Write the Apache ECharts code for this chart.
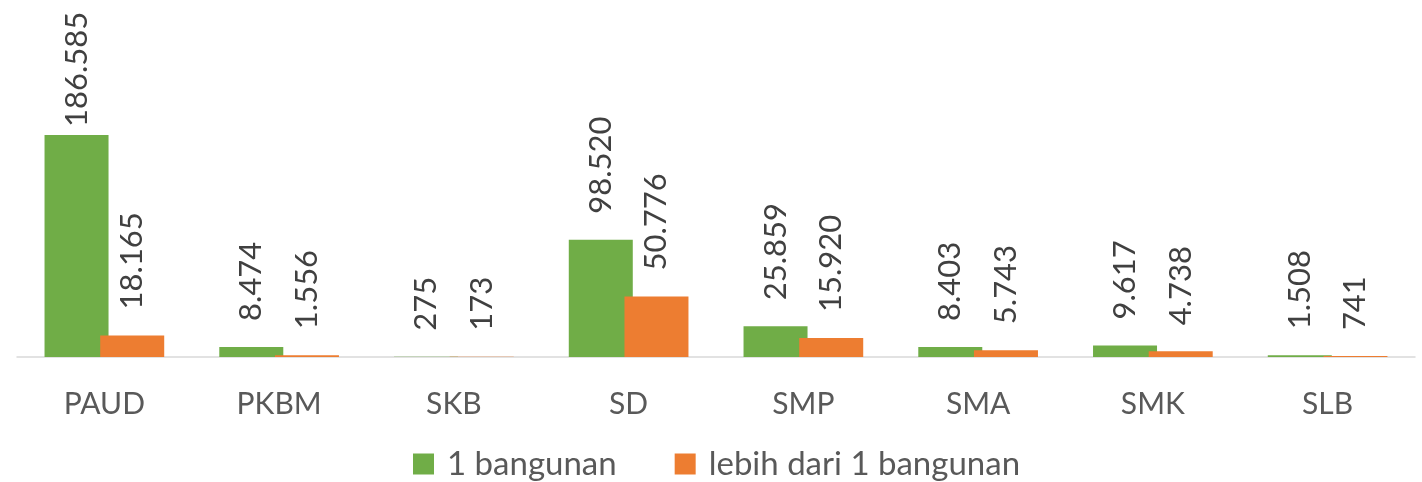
<!DOCTYPE html>
<html>
<head>
<meta charset="utf-8">
<script src="https://cdn.jsdelivr.net/npm/echarts@6/dist/echarts.min.js"></script>
<style>
	html, body { margin: 0; padding: 0; background: #ffffff; }
	#bar-container { width: 1422px; height: 482px; }
</style>
</head>
<body>
<div id="bar-container"></div>
<script>
var kategori = ['PAUD', 'PKBM', 'SKB', 'SD', 'SMP', 'SMA', 'SMK', 'SLB'];
var satu_bangunan = [186585, 8474, 275, 98520, 25859, 8403, 9617, 1508];
var lebih_satu_bangunan = [18165, 1556, 173, 50776, 15920, 5743, 4738, 741];
var nama_seri = ['1 bangunan', 'lebih dari 1 bangunan'];

var font_family = 'Lato';
var label_color = '#404040';
var axis_font_color = '#595959';

function formatRibuan(v) {
	return v.toString().replace(/\B(?=(\d{3})+(?!\d))/g, '.');
}

var y_max = 200000;

// label bar tertinggi didorong ke bawah supaya tidak keluar area chart
function buatData(arr) {
	return arr.map(function (v) {
		if (v > 180000) {
			return { value: v, label: { distance: 8 } };
		}
		return v;
	});
}

var barLabel = {
	show: true,
	position: 'top',
	rotate: 90,
	align: 'left',
	verticalAlign: 'middle',
	distance: 26,
	fontFamily: font_family,
	fontSize: 31,
	color: label_color,
	formatter: function (p) { return formatRibuan(p.value); }
};

var barChart = echarts.init(document.getElementById('bar-container'));
var barChartOptions = {
	animation: false,
	grid: {
		left: 17,
		right: 7,
		top: 119,
		bottom: 125
	},
	legend: {
		left: 413,
		top: 447,
		padding: 0,
		itemWidth: 21,
		itemHeight: 21,
		itemGap: 58,
		icon: 'rect',
		data: nama_seri,
		textStyle: {
			fontFamily: font_family,
			fontSize: 33,
			lineHeight: 34,
			color: axis_font_color,
			padding: [0, 0, 0, 8]
		}
	},
	xAxis: {
		type: 'category',
		data: kategori,
		axisTick: { show: false },
		axisLine: {
			lineStyle: { color: '#d9d9d9', width: 1.5 }
		},
		axisLabel: {
			margin: 32,
			fontFamily: font_family,
			fontSize: 30,
			color: axis_font_color
		}
	},
	yAxis: {
		type: 'value',
		min: 0,
		max: y_max,
		show: false,
		splitLine: { show: false }
	},
	series: [
		{
			name: nama_seri[0],
			type: 'bar',
			data: buatData(satu_bangunan),
			barWidth: 64,
			barGap: '-13%',
			itemStyle: { color: '#70ad47' },
			label: barLabel
		},
		{
			name: nama_seri[1],
			type: 'bar',
			data: buatData(lebih_satu_bangunan),
			barWidth: 64,
			itemStyle: { color: '#ed7d31' },
			label: barLabel
		}
	]
};

barChart.setOption(barChartOptions, true);
</script>
</body>
</html>
